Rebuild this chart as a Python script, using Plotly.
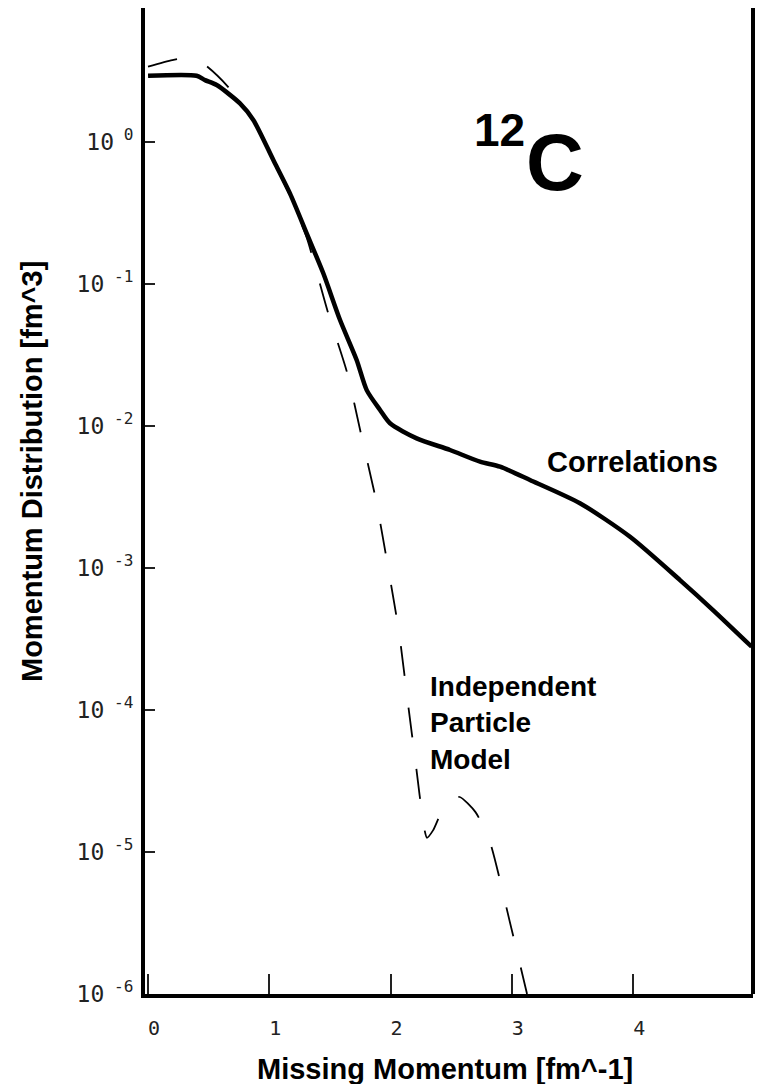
import plotly.graph_objects as go

# ---- data ----
momentum_corr = [0, 0.40, 0.47, 0.566, 0.758, 0.868, 1.033, 1.170, 1.308, 1.445, 1.583, 1.720,
                 1.803, 1.913, 1.995, 2.215, 2.490, 2.737, 2.902, 3.149, 3.561, 3.974, 4.386,
                 4.658, 4.977]
dist_corr = [2.93, 2.93, 2.73, 2.52, 1.87, 1.43, 0.747, 0.435, 0.2275, 0.119, 0.0558, 0.0292,
             0.0179, 0.01297, 0.01045, 0.00819, 0.00678, 0.00561, 0.00517, 0.00417, 0.00286,
             0.00166, 0.000822, 0.000506, 0.000279]

momentum_ipm = [0, 0.2, 0.33, 0.47, 0.66, 0.87, 1.03, 1.17, 1.31, 1.48, 1.64, 1.76, 1.88, 1.98,
                2.07, 2.14, 2.21, 2.275, 2.30, 2.35, 2.47, 2.57, 2.70, 2.82, 2.98, 3.125]
dist_ipm = [3.40, 3.78, 3.90, 3.49, 2.45, 1.42, 0.74, 0.42, 0.21, 0.0646, 0.024, 0.0085, 0.0030,
            0.0010, 3.5e-4, 1.17e-4, 4.0e-5, 1.5e-5, 1.26e-5, 1.42e-5, 2.32e-5, 2.44e-5,
            1.91e-5, 1.17e-5, 3.3e-6, 1.0e-6]

x_tickvals = [0, 1, 2, 3, 4]
x_ticktext = ["0", "1", "2", "3", "4"]
y_tickvals = [1e-6, 1e-5, 1e-4, 1e-3, 1e-2, 1e-1, 1e0]
y_ticktext = ["10<sup> -6</sup>", "10<sup> -5</sup>", "10<sup> -4</sup>", "10<sup> -3</sup>",
              "10<sup> -2</sup>", "10<sup> -1</sup>", "10<sup> 0</sup>"]

fig = go.Figure()
fig.add_trace(go.Scatter(x=momentum_ipm, y=dist_ipm, mode="lines",
                         line=dict(color="black", width=1.8, dash="30px,32px",
                                   shape="spline", smoothing=0.6),
                         name="Independent Particle Model", showlegend=False))
fig.add_trace(go.Scatter(x=momentum_corr, y=dist_corr, mode="lines",
                         line=dict(color="black", width=4.5, shape="spline", smoothing=0.7),
                         name="Correlations", showlegend=False))

W, H = 761, 1084
L, R, T, B = 145, 8, 8, 90
pw, ph = W - L - R, H - T - B

def px(xp):
    return (xp - L) / pw

def py(yp):
    return (H - B - yp) / ph

bold = "Liberation Sans, Arial, Helvetica, sans-serif"

fig.update_layout(
    width=W, height=H,
    margin=dict(l=L, r=R, t=T, b=B),
    paper_bgcolor="white", plot_bgcolor="white",
    showlegend=False,
    xaxis=dict(range=[-0.025, 4.988], showgrid=False, zeroline=False,
               showline=True, linecolor="black", linewidth=4,
               ticks="inside", ticklen=20, tickwidth=2, tickcolor="#222",
               tickvals=x_tickvals, ticktext=x_ticktext,
               tickfont=dict(family="DejaVu Sans Mono, monospace", size=20, color="#222"),
               ticklabelshift=6, ticklabelstandoff=13),
    yaxis=dict(type="log", range=[-6.0, 0.944], showgrid=False, zeroline=False,
               showline=True, linecolor="black", linewidth=4,
               ticks="inside", ticklen=10, tickwidth=2, tickcolor="#222",
               tickvals=y_tickvals, ticktext=y_ticktext,
               tickfont=dict(family="DejaVu Sans Mono, monospace", size=23, color="#222"),
               ticklabelstandoff=3),
)

# right frame line
fig.add_shape(type="line", xref="paper", yref="paper", x0=1, x1=1, y0=0, y1=1,
              line=dict(color="black", width=4))

annos = [
    dict(text="<b>Missing Momentum [fm^-1]</b>", x=px(445), y=py(1069), xanchor="center",
         yanchor="middle", font=dict(family=bold, size=29, color="black")),
    dict(text="<b>Momentum Distribution [fm^3]</b>", x=px(32), y=py(472), xanchor="center",
         yanchor="middle", textangle=-90, font=dict(family=bold, size=29, color="black")),
    dict(text="<b>Correlations</b>", x=px(545), y=py(462), xanchor="left", yanchor="middle",
         font=dict(family=bold, size=29, color="black")),
    dict(text="<b>Independent<br>Particle<br>Model</b>", x=px(428), y=py(723), xanchor="left",
         yanchor="middle", align="left", font=dict(family=bold, size=28, color="black")),
    dict(text="<b>12</b>", x=px(527), y=py(130), xanchor="right", yanchor="middle",
         font=dict(family=bold, size=46, color="black")),
    dict(text="<b>C</b>", x=px(524), y=py(162), xanchor="left", yanchor="middle",
         font=dict(family=bold, size=80, color="black")),
]
for a in annos:
    a.update(xref="paper", yref="paper", showarrow=False)
    fig.add_annotation(**a)

fig.write_html("out.html", config={"displayModeBar": False})
